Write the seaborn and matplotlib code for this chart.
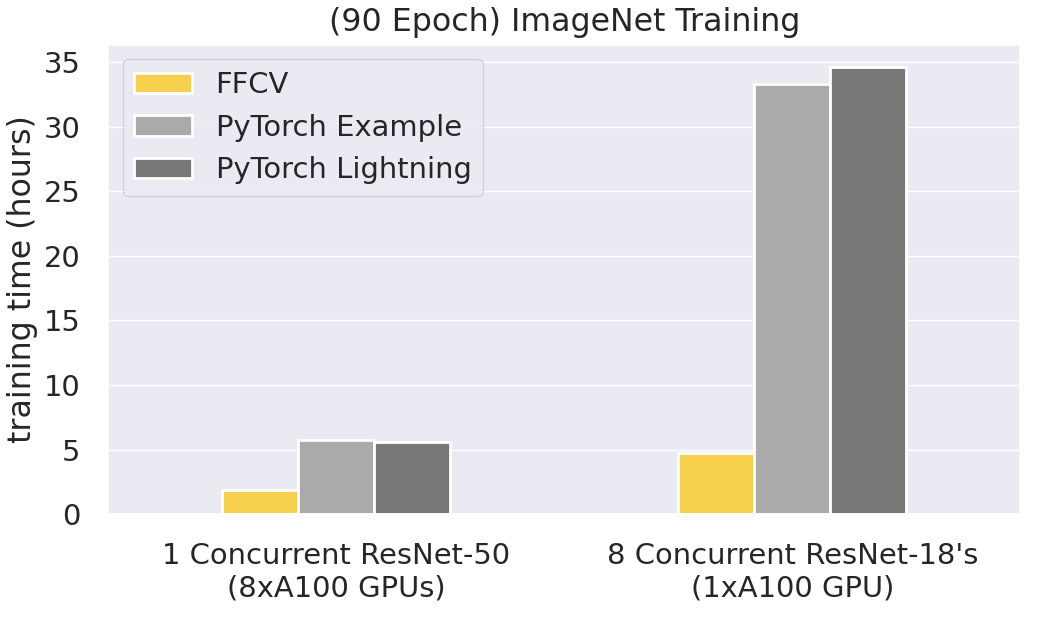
import pandas as pd
import seaborn as sns
import matplotlib.pyplot as plt

sns.set_theme(style="darkgrid", font_scale=1.9)

setups = ["1 Concurrent ResNet-50\n(8xA100 GPUs)", "8 Concurrent ResNet-18's\n(1xA100 GPU)"]
loaders = ["FFCV", "PyTorch Example", "PyTorch Lightning"]
ffcv_hours = [1.85, 4.7]
example_hours = [5.78, 33.3]
lightning_hours = [5.57, 34.6]

colors = ["#F6CF4D", "#AAAAAA", "#777777"]

df = pd.DataFrame({
    "setup": setups * 3,
    "loader": [l for l in loaders for _ in setups],
    "hours": ffcv_hours + example_hours + lightning_hours,
})

fig, ax = plt.subplots(figsize=(10.4, 6.24), dpi=100)
sns.barplot(data=df, x="setup", y="hours", hue="loader", hue_order=loaders,
            palette=colors, saturation=1, width=0.5, edgecolor="white",
            linewidth=2, ax=ax)
ax.set_xlabel("")
ax.set_ylabel("training time (hours)", labelpad=4)
ax.set_title("(90 Epoch) ImageNet Training", pad=10)
ax.tick_params(axis="x", pad=14)
ax.tick_params(axis="y", pad=14)
ax.legend(loc="upper left", title=None)
fig.subplots_adjust(left=0.104, right=0.981, top=0.928, bottom=0.176)
plt.savefig("out.png", dpi=100)
